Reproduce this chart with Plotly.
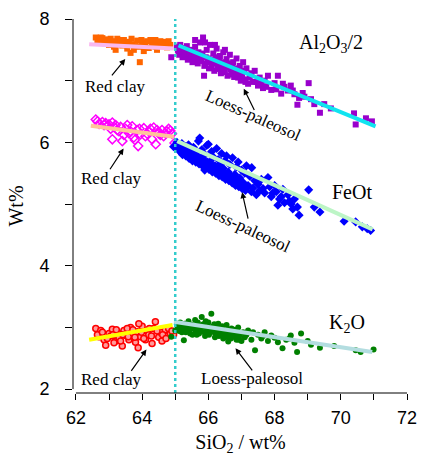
import plotly.graph_objects as go

# ---------------- data ----------------
al_rc_x = [62.6, 62.7, 62.8, 62.85, 62.95, 63.0, 63.1, 63.15, 63.25, 63.3, 63.4, 63.45, 63.55, 63.6, 63.7,
           63.75, 63.85, 63.9, 64.0, 64.05, 64.15, 64.2, 64.3, 64.35, 64.45, 64.5, 64.6, 64.65, 64.75, 64.85,
           63.93, 63.2, 62.9, 63.65, 64.4,
           62.65, 62.75, 62.92, 63.05, 63.22, 63.35, 63.5, 63.68, 63.8, 63.98, 64.1, 64.25, 64.4, 64.55,
           64.7, 64.8]
al_rc_y = [7.70, 7.66, 7.69, 7.62, 7.67, 7.58, 7.64, 7.55, 7.68, 7.60, 7.57, 7.66, 7.52, 7.63, 7.59,
           7.50, 7.65, 7.55, 7.61, 7.48, 7.64, 7.53, 7.58, 7.62, 7.50, 7.60, 7.56, 7.63, 7.54, 7.58,
           7.30, 7.50, 7.60, 7.45, 7.66,
           7.62, 7.70, 7.64, 7.68, 7.62, 7.66, 7.60, 7.68, 7.56, 7.66, 7.57, 7.66, 7.55, 7.64,
           7.60, 7.64]

al_lp_x = [64.88, 65.05, 65.1, 65.15, 65.2, 65.25, 65.3, 65.35, 65.4, 65.45, 65.5, 65.55, 65.6, 65.65, 65.7,
           65.75, 65.8, 65.84, 65.87, 65.9, 65.95, 66.0, 66.05, 66.1, 66.15, 66.2, 66.25, 66.3, 66.35, 66.4,
           66.45, 66.5, 66.55, 66.6, 66.65, 66.7, 66.75, 66.8, 66.85, 66.9, 66.95, 67.0, 67.05, 67.1, 67.15,
           67.2, 67.3, 67.35, 67.4, 67.5, 67.55, 67.65, 67.7, 67.8, 67.9, 68.0, 68.1, 68.2, 68.3, 68.4,
           68.49, 68.6, 68.69, 68.74, 68.85, 69.03, 69.1, 69.37, 69.5, 70.4, 70.45, 70.76, 70.94,
           65.6, 65.9, 66.2, 66.5,
           65.08, 65.12, 65.18, 65.22, 65.28, 65.32, 65.38, 65.42, 65.48, 65.52, 65.58, 65.62, 65.68, 65.72,
           65.78, 65.82, 65.88, 65.92, 65.98, 66.02, 66.08, 66.12, 66.18, 66.22, 66.28, 66.32, 66.38, 66.42,
           66.48, 66.52, 66.58, 66.62, 66.68, 66.72, 66.78, 66.82, 66.88, 66.92, 66.98, 67.02, 67.08, 67.12,
           67.25, 67.45, 67.6, 67.75, 68.05, 68.25, 68.55, 68.9, 69.2, 69.7]
al_lp_y = [7.38, 7.55, 7.48, 7.58, 7.44, 7.52, 7.40, 7.56, 7.47, 7.36, 7.50, 7.42, 7.55, 7.33, 7.46,
           7.62, 7.39, 7.70, 7.08, 7.28, 7.50, 7.36, 7.58, 7.24, 7.44, 7.30, 7.52, 7.19, 7.40, 7.27,
           7.46, 7.14, 7.35, 7.22, 7.42, 7.10, 7.30, 7.18, 7.36, 7.05, 7.24, 7.13, 7.30, 7.02, 7.20,
           6.95, 7.12, 6.98, 7.16, 6.92, 7.05, 6.88, 7.00, 7.08, 6.85, 6.96, 7.08, 6.79, 6.90, 6.84,
           6.92, 6.78, 6.61, 6.72, 6.80, 6.96, 6.70, 6.48, 6.62, 6.47, 6.29, 6.39, 6.34,
           7.66, 7.62, 7.58, 7.50,
           7.50, 7.42, 7.53, 7.38, 7.46, 7.50, 7.34, 7.44, 7.40, 7.30, 7.45, 7.36, 7.28, 7.40,
           7.32, 7.44, 7.24, 7.38, 7.30, 7.20, 7.34, 7.28, 7.16, 7.38, 7.25, 7.32, 7.12, 7.20,
           7.30, 7.22, 7.08, 7.28, 7.18, 7.24, 7.06, 7.12, 7.20, 7.14, 7.00, 7.08, 7.16, 6.98,
           7.05, 6.98, 6.95, 6.90, 6.86, 6.95, 6.84, 6.74, 6.62, 6.55]

fe_rc_x = [62.6, 62.7, 62.8, 62.9, 63.0, 63.05, 63.1, 63.2, 63.3, 63.35, 63.45, 63.5, 63.6, 63.7, 63.75,
           63.85, 63.88, 63.95, 64.05, 64.1, 64.2, 64.3, 64.35, 64.41, 64.5, 64.6, 64.65, 64.75, 64.85, 64.98,
           63.1, 63.4, 63.78,
           62.65, 62.85, 63.15, 63.25, 63.55, 63.65, 63.92, 64.15, 64.25, 64.45, 64.55, 64.7, 64.8, 64.9]
fe_rc_y = [6.37, 6.30, 6.33, 6.31, 6.29, 6.22, 6.05, 6.28, 6.18, 6.25, 6.12, 6.22, 6.15, 6.26, 6.08,
           6.20, 5.94, 6.13, 6.23, 6.10, 6.18, 6.05, 6.24, 5.97, 6.15, 6.20, 6.10, 6.18, 6.19, 5.99,
           6.32, 6.02, 6.04,
           6.34, 6.28, 6.25, 6.20, 6.28, 6.18, 6.22, 6.14, 6.22, 6.20, 6.12, 6.15, 6.22, 6.14]

fe_lp_x = [64.95, 65.05, 65.1, 65.15, 65.2, 65.25, 65.3, 65.35, 65.4, 65.45, 65.5, 65.55, 65.6, 65.65, 65.7,
           65.74, 65.8, 65.85, 65.89, 65.9, 65.95, 66.0, 66.05, 66.1, 66.15, 66.2, 66.25, 66.3, 66.35, 66.4,
           66.45, 66.5, 66.55, 66.6, 66.65, 66.73, 66.8, 66.85, 66.9, 66.95, 67.0, 67.05, 67.1, 67.15, 67.2,
           67.25, 67.31, 67.35, 67.4, 67.5, 67.55, 67.6, 67.7, 67.8, 67.85, 67.9, 68.0, 68.05, 68.15, 68.25,
           68.3, 68.4, 68.5, 68.6, 68.69, 68.74, 69.03, 69.37, 70.45, 70.65, 70.9,
           65.08, 65.12, 65.18, 65.22, 65.28, 65.32, 65.38, 65.42, 65.48, 65.52, 65.58, 65.62, 65.68, 65.72,
           65.78, 65.82, 65.88, 65.92, 65.98, 66.02, 66.08, 66.12, 66.18, 66.22, 66.28, 66.32, 66.38, 66.42,
           66.48, 66.52, 66.58, 66.62, 66.68, 66.72, 66.78, 66.82, 66.88, 66.92, 66.98, 67.02, 67.08, 67.12,
           67.2, 67.3, 67.45, 67.65, 67.95, 68.2, 68.45, 68.1, 68.55, 69.2, 70.1, 70.8]
fe_lp_y = [5.93, 6.00, 5.95, 5.90, 5.98, 5.86, 5.93, 5.82, 5.96, 5.88, 5.79, 5.92, 5.84, 5.75, 6.02,
           6.07, 5.88, 5.72, 5.55, 5.80, 5.95, 5.97, 5.68, 5.85, 5.76, 5.62, 5.90, 5.72, 5.65, 5.82,
           5.58, 5.70, 5.78, 5.52, 5.64, 5.75, 5.48, 5.60, 5.68, 5.42, 5.55, 5.35, 5.50, 5.62, 5.30,
           5.45, 5.59, 5.26, 5.38, 5.32, 5.22, 5.40, 5.18, 5.43, 5.28, 5.12, 5.30, 5.20, 5.08, 5.24,
           5.02, 5.15, 5.00, 5.08, 4.95, 4.82, 5.23, 4.87, 4.71, 4.63, 4.57,
           5.90, 5.86, 5.92, 5.80, 5.88, 5.78, 5.85, 5.74, 5.83, 5.70, 5.80, 5.68, 5.78, 5.65,
           5.74, 5.62, 5.70, 5.60, 5.68, 5.56, 5.64, 5.52, 5.60, 5.50, 5.58, 5.46, 5.55, 5.44,
           5.52, 5.40, 5.48, 5.38, 5.45, 5.34, 5.42, 5.30, 5.38, 5.28, 5.35, 5.25, 5.32, 5.22,
           5.28, 5.20, 5.15, 5.25, 5.18, 5.12, 5.05, 4.98, 4.92, 4.95, 4.72, 4.60]

k_rc_x = [62.6, 62.7, 62.75, 62.85, 62.9, 63.0, 63.05, 63.1, 63.2, 63.25, 63.3, 63.4, 63.45, 63.5, 63.6,
          63.65, 63.7, 63.8, 63.85, 63.88, 63.95, 64.0, 64.1, 64.15, 64.2, 64.3, 64.35, 64.4, 64.5, 64.55,
          64.6, 64.7, 64.75, 64.85, 64.95, 63.15, 63.55, 63.9,
          62.65, 62.8, 62.95, 63.12, 63.22, 63.35, 63.42, 63.58, 63.72, 63.78, 63.98, 64.05, 64.22, 64.28,
          64.45, 64.62, 64.72, 64.8, 64.9]
k_rc_y = [2.98, 2.85, 2.95, 2.80, 2.71, 2.90, 2.86, 2.97, 2.78, 2.92, 2.83, 2.70, 2.95, 2.87, 2.80,
          3.00, 2.90, 2.76, 2.93, 2.67, 2.85, 3.02, 2.80, 2.95, 2.88, 2.74, 2.98, 3.09, 2.84, 2.92,
          2.78, 2.96, 2.86, 2.90, 2.88, 2.75, 2.98, 3.06,
          2.88, 2.92, 2.82, 2.88, 2.96, 2.78, 2.88, 2.85, 2.96, 2.84, 2.92, 2.82, 2.98, 2.86,
          2.94, 2.88, 2.82, 2.98, 2.94]

k_lp_x = [64.88, 65.0, 65.05, 65.1, 65.15, 65.2, 65.26, 65.3, 65.35, 65.4, 65.45, 65.5, 65.55, 65.6, 65.65,
          65.7, 65.75, 65.8, 65.85, 65.9, 65.95, 66.0, 66.05, 66.09, 66.15, 66.2, 66.25, 66.3, 66.35, 66.4,
          66.45, 66.5, 66.55, 66.6, 66.65, 66.7, 66.75, 66.8, 66.85, 66.9, 66.95, 67.0, 67.05, 67.1, 67.2,
          67.3, 67.41, 67.5, 67.6, 67.7, 67.8, 67.9, 68.0, 68.1, 68.24, 68.35, 68.49, 68.6, 68.68, 68.8,
          69.0, 69.37, 70.45, 70.6, 70.99,
          65.08, 65.12, 65.18, 65.22, 65.28, 65.32, 65.38, 65.42, 65.48, 65.52, 65.58, 65.62, 65.68, 65.72,
          65.78, 65.82, 65.88, 65.92, 65.98, 66.02, 66.08, 66.12, 66.18, 66.22, 66.28, 66.32, 66.38, 66.42,
          66.48, 66.52, 66.58, 66.62, 66.68, 66.72, 66.78, 66.82, 66.88, 66.92, 67.15, 67.35, 67.65, 68.45,
          69.1, 69.8]
k_lp_y = [2.85, 2.95, 3.05, 2.98, 3.08, 2.92, 2.79, 3.02, 2.96, 3.10, 2.90, 3.04, 2.98, 3.12, 2.88,
          3.00, 2.94, 3.17, 3.05, 2.86, 2.99, 3.08, 2.92, 3.22, 3.02, 2.84, 2.96, 3.06, 2.90, 3.00,
          2.82, 2.95, 3.04, 2.77, 2.88, 2.98, 2.85, 2.93, 2.80, 3.00, 2.87, 2.78, 2.92, 2.84, 2.95,
          2.80, 2.63, 2.88, 2.82, 2.92, 2.78, 2.87, 2.83, 2.76, 2.66, 2.80, 2.87, 2.75, 2.60, 2.90,
          2.78, 2.67, 2.63, 2.60, 2.64,
          3.00, 2.94, 3.02, 2.97, 3.06, 2.92, 3.00, 2.95, 2.98, 2.88, 3.02, 2.94, 3.08, 2.90,
          2.98, 3.04, 2.92, 3.10, 2.95, 2.88, 3.00, 2.93, 3.05, 2.90, 2.98, 2.86, 2.94, 3.02,
          2.88, 2.92, 2.85, 2.96, 2.82, 2.90, 2.96, 2.86, 2.92, 2.80, 2.88, 2.92, 2.86, 2.82,
          2.72, 2.70]

# fitted trend lines (end points)
al_rc_fit_x = [62.4, 64.96]; al_rc_fit_y = [7.59, 7.52]
al_lp_fit_x = [65.1, 71.05]; al_lp_fit_y = [7.57, 6.26]
fe_rc_fit_x = [62.45, 64.96]; fe_rc_fit_y = [6.27, 6.09]
fe_lp_fit_x = [65.06, 70.96]; fe_lp_fit_y = [6.02, 4.59]
k_rc_fit_x = [62.4, 64.92]; k_rc_fit_y = [2.80, 3.04]
k_lp_fit_x = [64.96, 70.95]; k_lp_fit_y = [3.09, 2.60]

boundary_x = 65.0

x_tickvals = [62, 63, 64, 65, 66, 67, 68, 69, 70, 71, 72]
x_ticktext = ["62", "", "64", "", "66", "", "68", "", "70", "", "72"]
y_tickvals = [2, 3, 4, 5, 6, 7, 8]
y_ticktext = ["2", "", "4", "", "6", "", "8"]

SERIF = "Liberation Serif, Times New Roman, serif"
SANS = "Liberation Sans, Arial, sans-serif"

fig = go.Figure()

def pts(x, y, symbol, color, size, line_color=None, line_width=0):
    fig.add_trace(go.Scatter(
        x=x, y=y, mode="markers", showlegend=False, hoverinfo="skip",
        marker=dict(symbol=symbol, color=color, size=size,
                    line=dict(color=line_color or color, width=line_width))))

def fit(x, y, color):
    fig.add_trace(go.Scatter(x=x, y=y, mode="lines", showlegend=False, hoverinfo="skip",
                             line=dict(color=color, width=4)))

pts(al_rc_x, al_rc_y, "square", "#FF6600", 6)
pts(al_lp_x, al_lp_y, "square", "#9900CC", 6)
pts(fe_rc_x, fe_rc_y, "diamond-open", "#FF00FF", 7, line_width=1.5)
pts(fe_lp_x, fe_lp_y, "diamond", "#0000FF", 7)
pts(k_rc_x, k_rc_y, "circle", "#FF9A9A", 6, line_color="#FF0000", line_width=1.5)
pts(k_lp_x, k_lp_y, "circle", "#008000", 6)

fit(al_rc_fit_x, al_rc_fit_y, "#F9B8F0")
fit(al_lp_fit_x, al_lp_fit_y, "#10E4F0")
fit(fe_rc_fit_x, fe_rc_fit_y, "#FFC49A")
fit(fe_lp_fit_x, fe_lp_fit_y, "#BDF5C6")
fit(k_rc_fit_x, k_rc_fit_y, "#FFFF00")
fit(k_lp_fit_x, k_lp_fit_y, "#B3DDE0")

shapes = [
    dict(type="line", xref="x", yref="paper", x0=boundary_x, x1=boundary_x, y0=0, y1=1,
         line=dict(color="#33CCCC", width=2.5, dash="dot")),
    dict(type="line", xref="paper", yref="y", x0=0, x1=0, y0=2, y1=8,
         line=dict(color="black", width=1)),
    dict(type="line", xref="x", yref="paper", x0=62, x1=72, y0=0, y1=0,
         line=dict(color="black", width=1)),
]

ann = []
def label(x, y, text, size=17, angle=0):
    ann.append(dict(x=x, y=y, xref="x", yref="y", text=text, showarrow=False, textangle=angle,
                    font=dict(family=SERIF, size=size, color="black")))

def arrow(x, y, ax, ay):
    ann.append(dict(x=x, y=y, xref="x", yref="y", ax=ax, ay=ay, axref="x", ayref="y", text="",
                    showarrow=True, arrowhead=2, arrowsize=1, arrowwidth=1.2, arrowcolor="black"))

label(69.69, 7.6, "Al<sub>2</sub>O<sub>3</sub>/2", size=20)
label(70.33, 5.2, "FeOt", size=20)
label(70.18, 3.07, "K<sub>2</sub>O", size=20)

label(63.18, 6.91, "Red clay")
arrow(63.49, 7.35, 63.05, 7.06)
label(63.05, 5.41, "Red clay")
arrow(63.44, 5.90, 63.0, 5.54)
label(63.07, 2.16, "Red clay")
arrow(64.13, 2.64, 63.64, 2.27)

label(67.35, 6.43, "Loess-paleosol", angle=24)
arrow(67.07, 6.87, 67.41, 6.50)
label(67.06, 4.64, "Loess-paleosol", angle=25)
arrow(67.02, 5.19, 67.21, 4.74)
label(67.31, 2.17, "Loess-paleosol")
arrow(66.82, 2.66, 67.36, 2.28)

fig.update_layout(
    width=426, height=459,
    margin=dict(l=73, r=9, t=16, b=64),
    paper_bgcolor="white", plot_bgcolor="white",
    shapes=shapes, annotations=ann, showlegend=False,
    xaxis=dict(range=[61.912, 72.03], showgrid=False, zeroline=False, showline=False,
               tickmode="array", tickvals=x_tickvals, ticktext=x_ticktext,
               ticks="outside", ticklen=6, tickwidth=1, tickcolor="black",
               tickfont=dict(family=SANS, size=18, color="black"), ticklabelstandoff=2,
               title=dict(text="SiO<sub>2</sub> / wt%", font=dict(family=SERIF, size=20, color="black"),
                          standoff=8)),
    yaxis=dict(range=[1.936, 8.0], showgrid=False, zeroline=False, showline=False,
               tickmode="array", tickvals=y_tickvals, ticktext=y_ticktext,
               ticks="outside", ticklen=7, tickwidth=1, tickcolor="black",
               tickfont=dict(family=SANS, size=18, color="black"), ticklabelstandoff=12,
               title=dict(text="Wt%", font=dict(family=SERIF, size=20, color="black"), standoff=10)),
)

fig.write_html("out.html")
